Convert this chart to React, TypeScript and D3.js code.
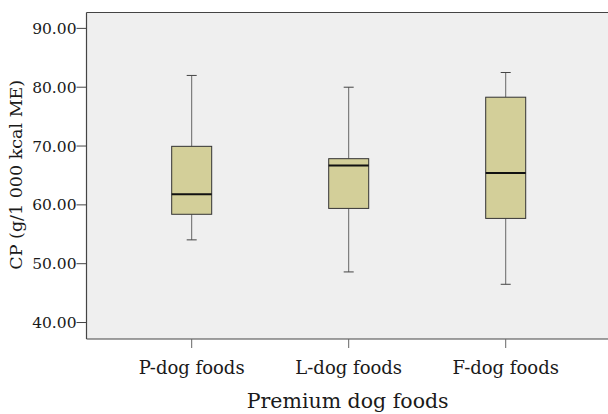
import React from "react";
import * as d3 from "d3";

const categories = ["P-dog foods", "L-dog foods", "F-dog foods"];
const mins = [54.05, 48.6, 46.5];
const q1s = [58.4, 59.4, 57.7];
const medians = [61.8, 66.7, 65.4];
const q3s = [69.95, 67.85, 78.3];
const maxs = [82.0, 80.0, 82.5];
const yTicks = [40, 50, 60, 70, 80, 90];

const W = 608;
const H = 414;
const L = 86.5;
const T = 12.5;
const B = 339;
const R = 610.9;
const FONT = "'DejaVu Serif', serif";

export default function App() {
  const x = d3.scaleBand<string>().domain(categories).range([L, R]).paddingInner(0).paddingOuter(0.17);
  const y = d3.scaleLinear().domain([37.2, 92.7]).range([B, T]);
  const bw = 40;
  const cap = 10;
  return (
    <svg width={W} height={H} style={{ position: "absolute", left: 0, top: 0, display: "block" }}>
      <rect x={L} y={T} width={W - L} height={B - T} fill="#efefef" />
      <line x1={L} x2={W} y1={T} y2={T} stroke="#444" strokeWidth={1.2} />
      <line x1={L} x2={W} y1={B} y2={B} stroke="#444" strokeWidth={1.2} />
      <line x1={L} x2={L} y1={T} y2={B} stroke="#444" strokeWidth={1.2} />
      {yTicks.map((t) => (
        <g key={t}>
          <line x1={L - 10} x2={L} y1={y(t)} y2={y(t)} stroke="#444" />
          <text x={L - 10} y={y(t)} dy="0.36em" textAnchor="end" fontFamily={FONT} fontSize={15.5} fill="#1a1a1a">
            {d3.format(".2f")(t)}
          </text>
        </g>
      ))}
      {categories.map((c, i) => {
        const cx = (x(c) as number) + x.bandwidth() / 2;
        return (
          <g key={c}>
            <line x1={cx} x2={cx} y1={B} y2={B + 9} stroke="#666" />
            <text x={cx} y={374} textAnchor="middle" fontFamily={FONT} fontSize={18} fill="#1a1a1a">
              {c}
            </text>
            <line x1={cx} x2={cx} y1={y(maxs[i])} y2={y(q3s[i])} stroke="#666" strokeWidth={1} />
            <line x1={cx} x2={cx} y1={y(q1s[i])} y2={y(mins[i])} stroke="#666" strokeWidth={1} />
            <line x1={cx - cap / 2} x2={cx + cap / 2} y1={y(maxs[i])} y2={y(maxs[i])} stroke="#444" />
            <line x1={cx - cap / 2} x2={cx + cap / 2} y1={y(mins[i])} y2={y(mins[i])} stroke="#444" />
            <rect
              x={cx - bw / 2}
              y={y(q3s[i])}
              width={bw}
              height={y(q1s[i]) - y(q3s[i])}
              fill="#d3cf99"
              stroke="#333"
              strokeWidth={1}
            />
            <line x1={cx - bw / 2} x2={cx + bw / 2} y1={y(medians[i])} y2={y(medians[i])} stroke="#111" strokeWidth={2} />
          </g>
        );
      })}
      <text x={(L + R) / 2 - 1} y={408} textAnchor="middle" fontFamily={FONT} fontSize={20.5} fill="#1a1a1a">
        Premium dog foods
      </text>
      <text
        transform={`translate(22, ${(T + B) / 2 - 1}) rotate(-90)`}
        textAnchor="middle"
        fontFamily={FONT}
        fontSize={17.5}
        fill="#1a1a1a"
      >
        CP (g/1 000 kcal ME)
      </text>
    </svg>
  );
}
